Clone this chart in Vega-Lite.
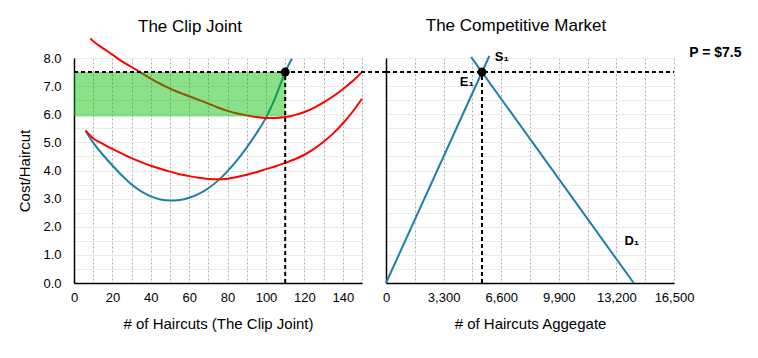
{
  "$schema": "https://vega.github.io/schema/vega-lite/v6.json",
  "autosize": {"type": "pad"},
  "padding": {"left": 17, "top": 16, "right": 15, "bottom": 16},
  "background": "white",
  "bounds": "flush",
  "spacing": 24,
  "config": {
    "font": "Liberation Sans",
    "view": {"stroke": null},
    "axis": {
      "labelFont": "Liberation Sans",
      "labelFontSize": 13,
      "labelColor": "#000000",
      "labelOverlap": false,
      "titleFont": "Liberation Sans",
      "titleFontSize": 15,
      "titleFontWeight": "normal",
      "titleColor": "#000000",
      "domainColor": "#000000",
      "domainWidth": 1.5,
      "ticks": false,
      "tickSize": 0
    },
    "title": {"font": "Liberation Sans", "fontSize": 17, "fontWeight": "normal", "color": "#000000"}
  },
  "datasets": {
    "cost": [
      {"curve": "MC", "q": 6, "c": 5.42},
      {"curve": "MC", "q": 8, "c": 5.19},
      {"curve": "MC", "q": 10, "c": 4.99},
      {"curve": "MC", "q": 15, "c": 4.56},
      {"curve": "MC", "q": 20, "c": 4.18},
      {"curve": "MC", "q": 25, "c": 3.82},
      {"curve": "MC", "q": 30, "c": 3.5},
      {"curve": "MC", "q": 35, "c": 3.26},
      {"curve": "MC", "q": 40, "c": 3.08},
      {"curve": "MC", "q": 45, "c": 2.97},
      {"curve": "MC", "q": 50, "c": 2.93},
      {"curve": "MC", "q": 55, "c": 2.95},
      {"curve": "MC", "q": 60, "c": 3.03},
      {"curve": "MC", "q": 65, "c": 3.17},
      {"curve": "MC", "q": 70, "c": 3.37},
      {"curve": "MC", "q": 75, "c": 3.64},
      {"curve": "MC", "q": 80, "c": 3.98},
      {"curve": "MC", "q": 85, "c": 4.37},
      {"curve": "MC", "q": 90, "c": 4.82},
      {"curve": "MC", "q": 95, "c": 5.32},
      {"curve": "MC", "q": 100, "c": 5.88},
      {"curve": "MC", "q": 105, "c": 6.62},
      {"curve": "MC", "q": 110, "c": 7.5},
      {"curve": "MC", "q": 113.5, "c": 7.97},
      {"curve": "ATC", "q": 8.5, "c": 8.7},
      {"curve": "ATC", "q": 10, "c": 8.6},
      {"curve": "ATC", "q": 15, "c": 8.35},
      {"curve": "ATC", "q": 20, "c": 8.12},
      {"curve": "ATC", "q": 25, "c": 7.88},
      {"curve": "ATC", "q": 30, "c": 7.68},
      {"curve": "ATC", "q": 35, "c": 7.47},
      {"curve": "ATC", "q": 40, "c": 7.27},
      {"curve": "ATC", "q": 45, "c": 7.08},
      {"curve": "ATC", "q": 50, "c": 6.91},
      {"curve": "ATC", "q": 55, "c": 6.77},
      {"curve": "ATC", "q": 60, "c": 6.64},
      {"curve": "ATC", "q": 65, "c": 6.51},
      {"curve": "ATC", "q": 70, "c": 6.38},
      {"curve": "ATC", "q": 75, "c": 6.24},
      {"curve": "ATC", "q": 80, "c": 6.12},
      {"curve": "ATC", "q": 85, "c": 6.03},
      {"curve": "ATC", "q": 90, "c": 5.96},
      {"curve": "ATC", "q": 95, "c": 5.9},
      {"curve": "ATC", "q": 100, "c": 5.87},
      {"curve": "ATC", "q": 105, "c": 5.87},
      {"curve": "ATC", "q": 110, "c": 5.9},
      {"curve": "ATC", "q": 115, "c": 5.97},
      {"curve": "ATC", "q": 120, "c": 6.08},
      {"curve": "ATC", "q": 125, "c": 6.23},
      {"curve": "ATC", "q": 130, "c": 6.42},
      {"curve": "ATC", "q": 135, "c": 6.64},
      {"curve": "ATC", "q": 140, "c": 6.89},
      {"curve": "ATC", "q": 145, "c": 7.17},
      {"curve": "ATC", "q": 150, "c": 7.5},
      {"curve": "AVC", "q": 6, "c": 5.42},
      {"curve": "AVC", "q": 10, "c": 5.15},
      {"curve": "AVC", "q": 15, "c": 4.95},
      {"curve": "AVC", "q": 20, "c": 4.77},
      {"curve": "AVC", "q": 25, "c": 4.6},
      {"curve": "AVC", "q": 30, "c": 4.44},
      {"curve": "AVC", "q": 35, "c": 4.3},
      {"curve": "AVC", "q": 40, "c": 4.17},
      {"curve": "AVC", "q": 45, "c": 4.06},
      {"curve": "AVC", "q": 50, "c": 3.96},
      {"curve": "AVC", "q": 55, "c": 3.87},
      {"curve": "AVC", "q": 60, "c": 3.8},
      {"curve": "AVC", "q": 65, "c": 3.74},
      {"curve": "AVC", "q": 70, "c": 3.7},
      {"curve": "AVC", "q": 75, "c": 3.69},
      {"curve": "AVC", "q": 80, "c": 3.71},
      {"curve": "AVC", "q": 85, "c": 3.77},
      {"curve": "AVC", "q": 90, "c": 3.85},
      {"curve": "AVC", "q": 95, "c": 3.94},
      {"curve": "AVC", "q": 100, "c": 4.05},
      {"curve": "AVC", "q": 105, "c": 4.15},
      {"curve": "AVC", "q": 110, "c": 4.27},
      {"curve": "AVC", "q": 115, "c": 4.4},
      {"curve": "AVC", "q": 120, "c": 4.56},
      {"curve": "AVC", "q": 125, "c": 4.77},
      {"curve": "AVC", "q": 130, "c": 5.02},
      {"curve": "AVC", "q": 135, "c": 5.32},
      {"curve": "AVC", "q": 140, "c": 5.67},
      {"curve": "AVC", "q": 145, "c": 6.08},
      {"curve": "AVC", "q": 150, "c": 6.55}
    ],
    "profit": [{"q0": 0, "q1": 110, "c0": 5.92, "c1": 7.5}],
    "priceLeft": [{"q0": 0, "q1": 162.5, "c": 7.5}],
    "firmQ": [{"q": 110, "c0": 0, "c1": 7.5}],
    "firmPoint": [{"q": 110, "c": 7.5}],
    "market": [
      {"curve": "S", "q": 0, "p": 0},
      {"curve": "S", "q": 5920, "p": 8.07},
      {"curve": "D", "q": 4880, "p": 8.03},
      {"curve": "D", "q": 14190, "p": 0}
    ],
    "priceRight": [{"q0": 0, "q1": 16500, "p": 7.5}],
    "marketQ": [{"q": 5500, "p0": 0, "p1": 7.5}],
    "marketPoint": [{"q": 5500, "p": 7.5}],
    "curveLabels": [
      {"t": "S₁", "q": 6634, "p": 8.02},
      {"t": "E₁", "q": 4629, "p": 7.13},
      {"t": "D₁", "q": 14082, "p": 1.5}
    ],
    "priceLabel": [{"t": "P = $7.5", "q": 18866, "p": 8.18}]
  },
  "hconcat": [
    {
      "width": 288,
      "height": 225,
      "title": {"text": "The Clip Joint", "dx": -28, "offset": -2},
      "layer": [
        {
          "data": {"name": "cost"},
          "mark": {"type": "line", "strokeWidth": 2, "interpolate": "monotone"},
          "encoding": {
            "x": {
              "field": "q", "type": "quantitative",
              "scale": {"domain": [0, 150], "nice": false, "zero": false},
              "axis": {
                "title": "# of Haircuts (The Clip Joint)",
                "values": [0, 10, 20, 30, 40, 50, 60, 70, 80, 90, 100, 110, 120, 130, 140, 150],
                "tickCount": 40,
                "labelExpr": "datum.value % 20 === 0 ? datum.label : ''",
                "labelOverlap": false,
                "grid": true, "gridDash": [2, 2], "gridColor": "#aaaaaa", "gridWidth": 1,
                "labelPadding": 8, "titlePadding": 12, "labelFlush": false
              }
            },
            "y": {
              "field": "c", "type": "quantitative",
              "scale": {"domain": [0, 8], "nice": false, "zero": false},
              "axis": {
                "title": "Cost/Haircut",
                "values": [0, 0.5, 1, 1.5, 2, 2.5, 3, 3.5, 4, 4.5, 5, 5.5, 6, 6.5, 7, 7.5, 8],
                "tickCount": 40,
                "labelExpr": "datum.value % 1 === 0 ? format(datum.value, '.1f') : ''",
                "labelOverlap": false,
                "grid": true, "gridColor": "#ebebeb", "gridWidth": 1,
                "labelPadding": 13, "titlePadding": 10
              }
            },
            "color": {
              "field": "curve", "type": "nominal",
              "scale": {"domain": ["MC", "ATC", "AVC"], "range": ["#1f7fa6", "#ff0000", "#ff0000"]},
              "legend": null
            }
          }
        },
        {
          "data": {"name": "profit"},
          "mark": {"type": "rect", "color": "#00be00", "opacity": 0.46},
          "encoding": {
            "x": {"field": "q0", "type": "quantitative"},
            "x2": {"field": "q1"},
            "y": {"field": "c0", "type": "quantitative"},
            "y2": {"field": "c1"}
          }
        },
        {
          "data": {"name": "priceLeft"},
          "mark": {"type": "rule", "color": "#000000", "strokeWidth": 2, "strokeDash": [4, 3]},
          "encoding": {
            "x": {"field": "q0", "type": "quantitative"},
            "x2": {"field": "q1"},
            "y": {"field": "c", "type": "quantitative"}
          }
        },
        {
          "data": {"name": "firmQ"},
          "mark": {"type": "rule", "color": "#000000", "strokeWidth": 2, "strokeDash": [4, 3]},
          "encoding": {
            "x": {"field": "q", "type": "quantitative"},
            "y": {"field": "c0", "type": "quantitative"},
            "y2": {"field": "c1"}
          }
        },
        {
          "data": {"name": "firmPoint"},
          "mark": {"type": "point", "filled": true, "size": 80, "color": "#000000", "opacity": 1},
          "encoding": {
            "x": {"field": "q", "type": "quantitative"},
            "y": {"field": "c", "type": "quantitative"}
          }
        }
      ]
    },
    {
      "width": 288,
      "height": 225,
      "title": {"text": "The Competitive Market", "dx": -14, "offset": 11},
      "layer": [
        {
          "data": {"name": "market"},
          "mark": {"type": "line", "strokeWidth": 2, "color": "#1f7fa6"},
          "encoding": {
            "x": {
              "field": "q", "type": "quantitative",
              "scale": {"domain": [0, 16500], "nice": false, "zero": false},
              "axis": {
                "title": "# of Haircuts Aggegate",
                "values": [0, 1650, 3300, 4950, 6600, 8250, 9900, 11550, 13200, 14850, 16500],
                "tickCount": 40,
                "labelExpr": "datum.value % 3300 === 0 ? format(datum.value, ',') : ''",
                "labelOverlap": false,
                "grid": true, "gridDash": [2, 2], "gridColor": "#aaaaaa", "gridWidth": 1,
                "labelPadding": 8, "titlePadding": 12, "labelFlush": false
              }
            },
            "y": {
              "field": "p", "type": "quantitative",
              "scale": {"domain": [0, 8], "nice": false, "zero": false},
              "axis": {
                "title": null,
                "labels": false,
                "values": [0, 0.5, 1, 1.5, 2, 2.5, 3, 3.5, 4, 4.5, 5, 5.5, 6, 6.5, 7, 7.5, 8],
                "tickCount": 40,
                "grid": true, "gridColor": "#ebebeb", "gridWidth": 1
              }
            },
            "detail": {"field": "curve", "type": "nominal"}
          }
        },
        {
          "data": {"name": "priceRight"},
          "mark": {"type": "rule", "color": "#000000", "strokeWidth": 2, "strokeDash": [4, 3]},
          "encoding": {
            "x": {"field": "q0", "type": "quantitative"},
            "x2": {"field": "q1"},
            "y": {"field": "p", "type": "quantitative"}
          }
        },
        {
          "data": {"name": "marketQ"},
          "mark": {"type": "rule", "color": "#000000", "strokeWidth": 2, "strokeDash": [4, 3]},
          "encoding": {
            "x": {"field": "q", "type": "quantitative"},
            "y": {"field": "p0", "type": "quantitative"},
            "y2": {"field": "p1"}
          }
        },
        {
          "data": {"name": "marketPoint"},
          "mark": {"type": "point", "filled": true, "size": 80, "color": "#000000", "opacity": 1},
          "encoding": {
            "x": {"field": "q", "type": "quantitative"},
            "y": {"field": "p", "type": "quantitative"}
          }
        },
        {
          "data": {"name": "curveLabels"},
          "mark": {"type": "text", "font": "Liberation Sans", "fontWeight": "bold", "fontSize": 13, "color": "#000000", "align": "center", "baseline": "middle"},
          "encoding": {
            "x": {"field": "q", "type": "quantitative"},
            "y": {"field": "p", "type": "quantitative"},
            "text": {"field": "t"}
          }
        },
        {
          "data": {"name": "priceLabel"},
          "mark": {"type": "text", "font": "Liberation Sans", "fontWeight": "bold", "fontSize": 14, "color": "#000000", "align": "center", "baseline": "middle"},
          "encoding": {
            "x": {"field": "q", "type": "quantitative"},
            "y": {"field": "p", "type": "quantitative"},
            "text": {"field": "t"}
          }
        }
      ]
    }
  ]
}
